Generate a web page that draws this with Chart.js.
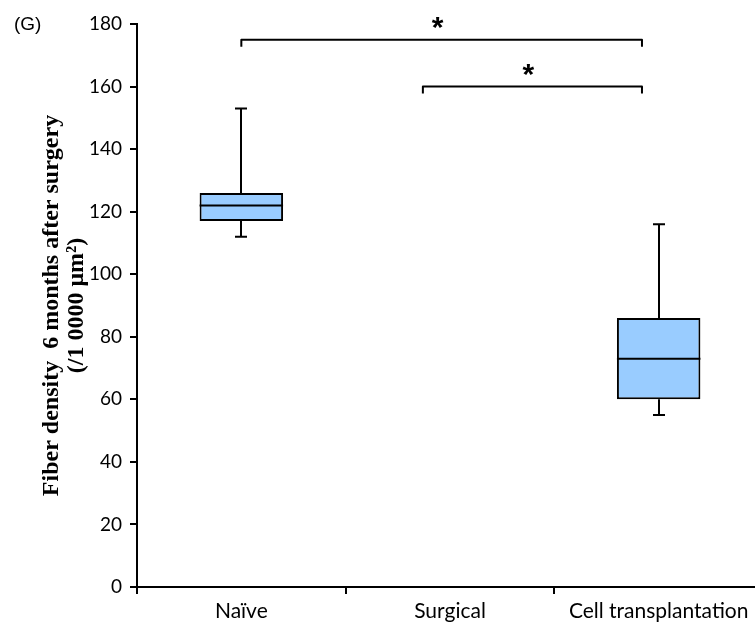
<!DOCTYPE html>
<html>
<head>
<meta charset="utf-8">
<script src="https://cdn.jsdelivr.net/npm/chart.js@4.4.1/dist/chart.umd.min.js"></script>
<style>
  html, body { margin: 0; padding: 0; background: #fff; overflow: hidden; }
  #wrap { width: 755px; height: 623px; overflow: hidden; }
  #chart { display: block; }
</style>
</head>
<body>
<div id="wrap"><canvas id="chart" width="770" height="623"></canvas></div>
<script>
// box plot values (Surgical has no box)
const categories = ['Naïve', 'Surgical', 'Cell transplantation'];
const whiskerMin = [112, null, 55];
const quartile1 = [117, null, 60];
const medians = [122, null, 73];
const quartile3 = [126, null, 86];
const whiskerMax = [153, null, 116];
const yTicks = [0, 20, 40, 60, 80, 100, 120, 140, 160, 180];

// significance brackets, in category units / y values
const bracketStart = [0, 0.87];
const bracketEnd = [1.92, 1.92];
const bracketLevel = [175, 160];
const bracketMark = ['*', '*'];

const boxFill = '#99ccff';

const boxExtras = {
    id: 'boxExtras',
    beforeDatasetsDraw(chart) {
        const { ctx, scales: { y } } = chart;
        const meta = chart.getDatasetMeta(0);
        ctx.save();
        ctx.strokeStyle = '#000';
        ctx.lineWidth = 2;
        meta.data.forEach((bar, i) => {
            if (medians[i] == null) return;
            const cx = Math.round(bar.x);
            const cap = 6;
            const yMax = y.getPixelForValue(whiskerMax[i]);
            const yQ3 = y.getPixelForValue(quartile3[i]);
            const yQ1 = y.getPixelForValue(quartile1[i]);
            const yMin = y.getPixelForValue(whiskerMin[i]);
            ctx.beginPath();
            ctx.moveTo(cx, yQ3); ctx.lineTo(cx, yMax);
            ctx.moveTo(cx - cap, yMax); ctx.lineTo(cx + cap, yMax);
            ctx.moveTo(cx, yQ1); ctx.lineTo(cx, yMin);
            ctx.moveTo(cx - cap, yMin); ctx.lineTo(cx + cap, yMin);
            ctx.stroke();
        });
        ctx.restore();
    },
    afterDatasetsDraw(chart) {
        const { ctx, scales: { y } } = chart;
        const meta = chart.getDatasetMeta(0);
        ctx.save();
        ctx.strokeStyle = '#000';
        ctx.lineWidth = 2;
        meta.data.forEach((bar, i) => {
            if (medians[i] == null) return;
            const half = bar.width / 2;
            const yMed = y.getPixelForValue(medians[i]);
            ctx.beginPath();
            ctx.moveTo(bar.x - half, yMed);
            ctx.lineTo(bar.x + half, yMed);
            ctx.stroke();
        });
        ctx.restore();
    },
    afterDraw(chart) {
        const { ctx, scales: { x, y } } = chart;
        ctx.save();
        // panel letter
        ctx.fillStyle = '#000';
        ctx.font = '19px "Liberation Sans"';
        ctx.textBaseline = 'alphabetic';
        ctx.textAlign = 'left';
        ctx.fillText('(G)', 14, 30);

        ctx.strokeStyle = '#000';
        ctx.lineWidth = 2;
        ctx.lineJoin = 'round';
        bracketLevel.forEach((lvl, i) => {
            const x0 = x.getPixelForValue(bracketStart[i]);
            const x1 = x.getPixelForValue(bracketEnd[i]);
            const yy = y.getPixelForValue(lvl);
            ctx.beginPath();
            ctx.moveTo(x0, yy + 7);
            ctx.lineTo(x0, yy);
            ctx.lineTo(x1, yy);
            ctx.lineTo(x1, yy + 7);
            ctx.stroke();
            ctx.font = 'bold 30px "Liberation Sans"';
            ctx.textAlign = 'center';
            ctx.fillText(bracketMark[i], (x0 + x1) / 2 - 4, yy - 20 + 17);
        });
        ctx.restore();
    }
};

new Chart(document.getElementById('chart'), {
    type: 'bar',
    data: {
        labels: categories,
        datasets: [{
            data: categories.map((c, i) => quartile1[i] == null ? null : [quartile1[i], quartile3[i]]),
            backgroundColor: boxFill,
            borderColor: '#000',
            borderWidth: 2,
            borderSkipped: false,
            barPercentage: 0.4,
            categoryPercentage: 1
        }]
    },
    options: {
        responsive: false,
        animation: false,
        layout: { padding: { left: 0, right: 7, top: 24, bottom: 0 } },
        plugins: {
            legend: { display: false },
            tooltip: { enabled: false }
        },
        scales: {
            x: {
                grid: { drawOnChartArea: false, tickLength: 7, color: '#000', lineWidth: 2, offset: true },
                border: { color: '#000', width: 2 },
                ticks: { color: '#000', font: { family: 'Lato', size: 21 }, padding: 5, maxRotation: 0 },
                afterFit: s => { s.height = 36; }
            },
            y: {
                min: 0,
                max: 180,
                afterBuildTicks: s => { s.ticks = yTicks.map(v => ({ value: v })); },
                grid: { drawOnChartArea: false, tickLength: 7, color: '#000', lineWidth: 2 },
                border: { color: '#000', width: 2 },
                ticks: { color: '#000', font: { family: 'Lato', size: 19 }, padding: 8 },
                title: {
                    display: true,
                    text: ['Fiber density  6 months after surgery', '(/1 0000 μm²)'],
                    color: '#000',
                    font: { family: 'Liberation Serif', size: 24, weight: 'bold', lineHeight: 1.05 },
                    padding: { top: 39, bottom: 0 }
                },
                afterFit: s => { s.width = 137; }
            }
        }
    },
    plugins: [boxExtras]
});
</script>
</body>
</html>
